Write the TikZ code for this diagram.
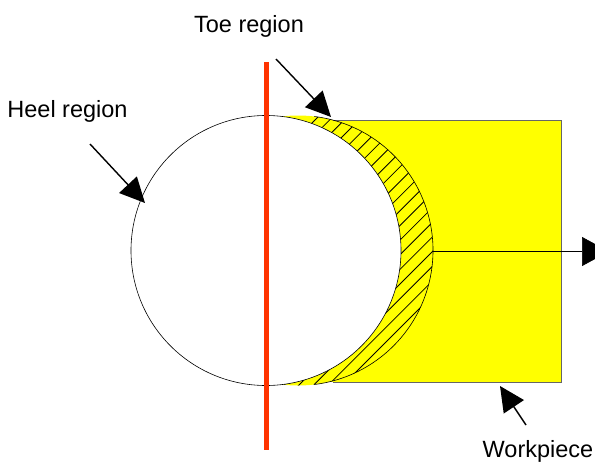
\documentclass[tikz,border=0pt]{standalone}
\usepackage{fontspec}
\setmainfont{Liberation Sans}
\usetikzlibrary{arrows.meta}
\definecolor{wpyellow}{RGB}{255,255,0}
\definecolor{axisred}{RGB}{255,51,0}
\tikzset{
  lbl/.style={inner sep=0pt,font=\fontsize{23.5}{28}\selectfont,text=black},
  pointer/.style={draw=black,line width=1.4pt,-{Triangle[length=25pt,width=24pt]}},
  thin line/.style={draw=black,line width=0.6pt}
}
\begin{document}
\begin{tikzpicture}[x=1pt,y=-1pt]
\useasboundingbox (0,0) rectangle (595,461);
\fill[white] (0,0) rectangle (595,461);
% workpiece
\fill[wpyellow] (330,120) -- (561,120) -- (561,382) -- (330,382) -- cycle;
\fill[wpyellow] (298,250.5) circle (135);
\fill[white] (0,0) rectangle (282,461);
\draw[line width=0.8pt,draw=black!60] (332.6,120) -- (561,120) -- (561,382) -- (332.6,382);
% hatching in the crescent
\begin{scope}
  \clip (298,250.5) circle (135);
  \foreach \k in {0,...,20}{
    \pgfmathsetmacro{\s}{435+14.65*\k}
    \draw[line width=0.8pt] (\s-420,420) -- (\s-100,100);
  }
\end{scope}
% outer arc of crescent
\draw[thin line] (298,250.5) ++(-83:135) arc (-83:83:135);
% tool circle
\node[circle,draw=black,line width=0.6pt,fill=white,minimum size=270pt,inner sep=0pt] (tool) at (266,250.5) {};
% axis
\coordinate (axT) at (266.5,62);
\coordinate (axB) at (266.5,450);
\draw[line width=5pt,draw=axisred] (axT) -- (axB);
% arrows
\coordinate (a1) at (276,59); \coordinate (a2) at (331,117);
\coordinate (b1) at (90,144); \coordinate (b2) at (145,203);
\coordinate (c1) at (433,251.5); \coordinate (c2) at (609,251.5);
\coordinate (d1) at (526,425); \coordinate (d2) at (500,386);
\draw[pointer] (a1) -- (a2);
\draw[pointer] (b1) -- (b2);
\draw[draw=black,line width=0.7pt,-{Triangle[length=27pt,width=29pt]}] (c1) -- (c2);
\draw[pointer] (d1) -- (d2);
% labels
\node[lbl] (toe) at (249,26) {Toe region};
\node[lbl] (heel) at (67.5,111) {Heel region};
\node[lbl] (wp) at (538,451) {Workpiece};
\end{tikzpicture}
\end{document}
